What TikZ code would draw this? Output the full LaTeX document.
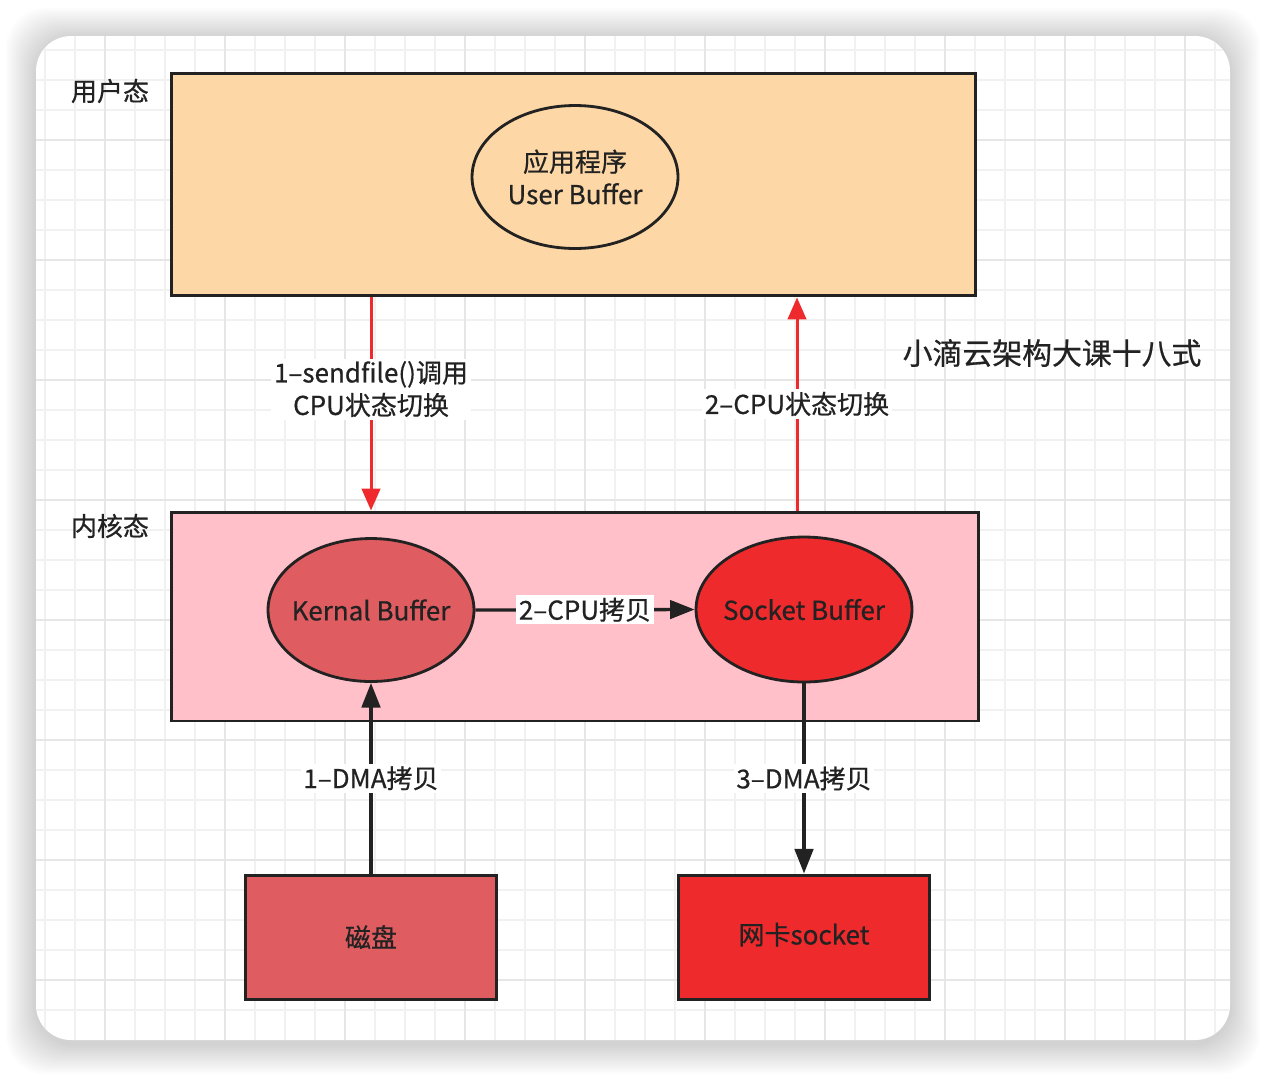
\documentclass[tikz,border=0pt]{standalone}
\usepackage{fontspec}
\setmainfont{Noto Sans CJK SC}[FakeBold=0.6]
\usepackage{tikz}
\usetikzlibrary{arrows.meta,positioning,shapes.geometric}
\definecolor{zcink}{HTML}{222222}
\definecolor{zcorange}{HTML}{FDD7A5}
\definecolor{zcpink}{HTML}{FFC0CA}
\definecolor{zckbuf}{HTML}{DF5C61}
\definecolor{zcsbuf}{HTML}{EE2A2C}
\definecolor{zcred}{HTML}{EE2A2C}
\definecolor{zcgrid}{HTML}{F1F1F1}
\definecolor{zcgridmajor}{HTML}{E6E6E6}

\begin{document}
\begin{tikzpicture}[
  x=0.02cm,y=-0.02cm,
  every node/.style={font=\fontsize{14.8}{18.5}\selectfont,text=zcink,align=center},
  layer/.style={draw=zcink,line width=1.7pt},
  buf/.style={ellipse,draw=zcink,line width=1.6pt,minimum width=4.12cm,minimum height=2.86cm,inner xsep=-10pt,inner ysep=0pt},
  dev/.style={draw=zcink,line width=1.7pt,minimum width=5.04cm,minimum height=2.48cm},
  lbl/.style={fill=white,inner sep=1.5pt},
  dmaarrow/.style={-{Triangle[length=14pt,width=10.5pt]},line width=1.9pt,draw=zcink},
  cpuarrow/.style={-{Triangle[length=12.5pt,width=10.5pt]},line width=1.7pt,draw=zcred}
]
\useasboundingbox (0,0) rectangle (1266,1076);
% card with soft shadow
\foreach \i in {1,...,15}
  \fill[black,opacity=0.012,rounded corners=0.8cm] (36-2*\i,38-2*\i) rectangle (1230+2*\i,1044+2*\i);
\fill[white,rounded corners=0.7cm] (36,36) rectangle (1230,1040);
\begin{scope}
  \clip[rounded corners=0.7cm] (36,36) rectangle (1230,1040);
  \foreach \x in {45,75,...,1215}
    \draw[zcgrid,line width=0.8pt] (\x,36) -- (\x,1040);
  \foreach \y in {50,80,...,1030}
    \draw[zcgrid,line width=0.8pt] (36,\y) -- (1230,\y);
  \foreach \x in {105,225,...,1185}
    \draw[zcgridmajor,line width=0.9pt] (\x,36) -- (\x,1040);
  \foreach \y in {140,260,...,980}
    \draw[zcgridmajor,line width=0.9pt] (36,\y) -- (1230,\y);
\end{scope}

% user space
\node[layer,fill=zcorange,minimum width=16.1cm,minimum height=4.46cm] (user) at (573.5,184.5) {};
\node[buf,fill=zcorange] (ubuf) at (575,177) {应用程序\\User Buffer};
\node (ulabel) at (110,91) {用户态};

% kernel space
\node[layer,fill=zcpink,minimum width=16.16cm,minimum height=4.18cm] (kernel) at (575,616.5) {};
\node[buf,fill=zckbuf] (kbuf) at (371,610) {Kernal Buffer};
\node[buf,fill=zcsbuf,minimum width=4.32cm,minimum height=2.9cm] (sbuf) at (804,609.5) {Socket Buffer};
\node (klabel) at (110,526) {内核态};

% devices
\node[dev,fill=zckbuf] (disk) at (371,937) {磁盘};
\node[dev,fill=zcsbuf] (nic) at (804,937) {\raisebox{4pt}{网卡socket}};

\node[font=\fontsize{17}{20}\selectfont] (brand) at (1052,353) {小滴云架构大课十八式};

\draw[cpuarrow] (user.south -| kbuf) -- node[lbl,pos=0.43]{1--sendfile()调用\\CPU状态切换} (kernel.north -| kbuf);
\draw[cpuarrow] (kernel.north -| 797,0) -- node[lbl]{2--CPU状态切换} (user.south -| 797,0);
\draw[dmaarrow] (kbuf.east) -- node[lbl]{2--CPU拷贝} (sbuf.west);
\draw[dmaarrow] (disk.north) -- node[lbl]{1--DMA拷贝} (kbuf.south);
\draw[dmaarrow] (sbuf.south) -- node[lbl]{3--DMA拷贝} (nic.north);
\end{tikzpicture}
\end{document}
